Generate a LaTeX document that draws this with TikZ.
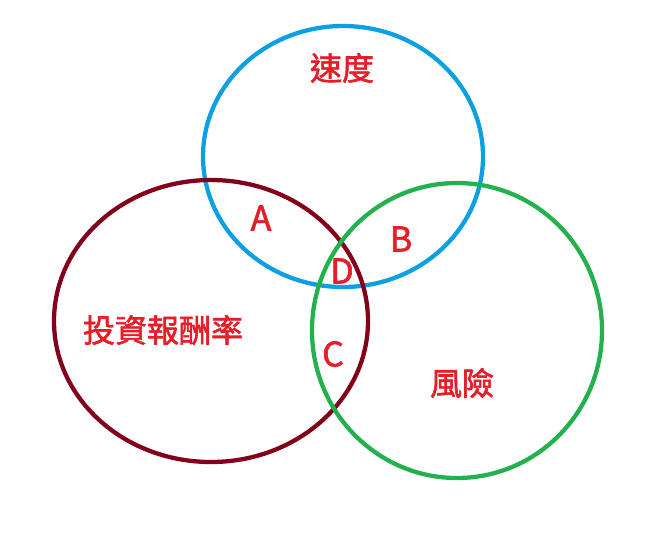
\documentclass[tikz,border=0pt]{standalone}
\usepackage{fontspec}
\setmainfont{Noto Sans CJK TC}
\newfontfamily\cjkmed{Noto Sans CJK TC}[UprightFeatures={FakeBold=1.8}]
\definecolor{txtred}{RGB}{230,30,40}
\definecolor{cblue}{RGB}{10,160,225}
\definecolor{cdred}{RGB}{130,0,25}
\definecolor{cgreen}{RGB}{34,177,76}
\begin{document}
\begin{tikzpicture}[x=0.75pt,y=-0.75pt,
  ring/.style={line width=3.2pt},
  cjk/.style={text=txtred,inner sep=0pt,font=\cjkmed\fontsize{24pt}{28pt}\selectfont},
  letter/.style={text=txtred,inner sep=0pt,font=\cjkmed\fontsize{25.5pt}{30pt}\selectfont}]
\useasboundingbox (0,0) rectangle (649,544);
\fill[white] (0,0) rectangle (649,544);
\coordinate (cspeed) at (343,156.5);
\coordinate (creturn) at (211,321);
\coordinate (crisk) at (457,330.5);
\draw[ring,cblue] (cspeed) ellipse [x radius=140, y radius=130.5];
\draw[ring,cdred] (creturn) ellipse [x radius=157, y radius=141];
\draw[ring,cgreen] (crisk) ellipse [x radius=145, y radius=147.5];
\node[cjk] (speed) at (342,68) {速度};
\node[cjk] (ret) at (163,330) {投資報酬率};
\node[cjk] (risk) at (462,383) {風險};
\node[letter] (A) at (261,218) {A};
\node[letter] (B) at (401,239) {B};
\node[letter] (D) at (342,271) {D};
\node[letter] (C) at (333,354) {C};
\end{tikzpicture}
\end{document}
